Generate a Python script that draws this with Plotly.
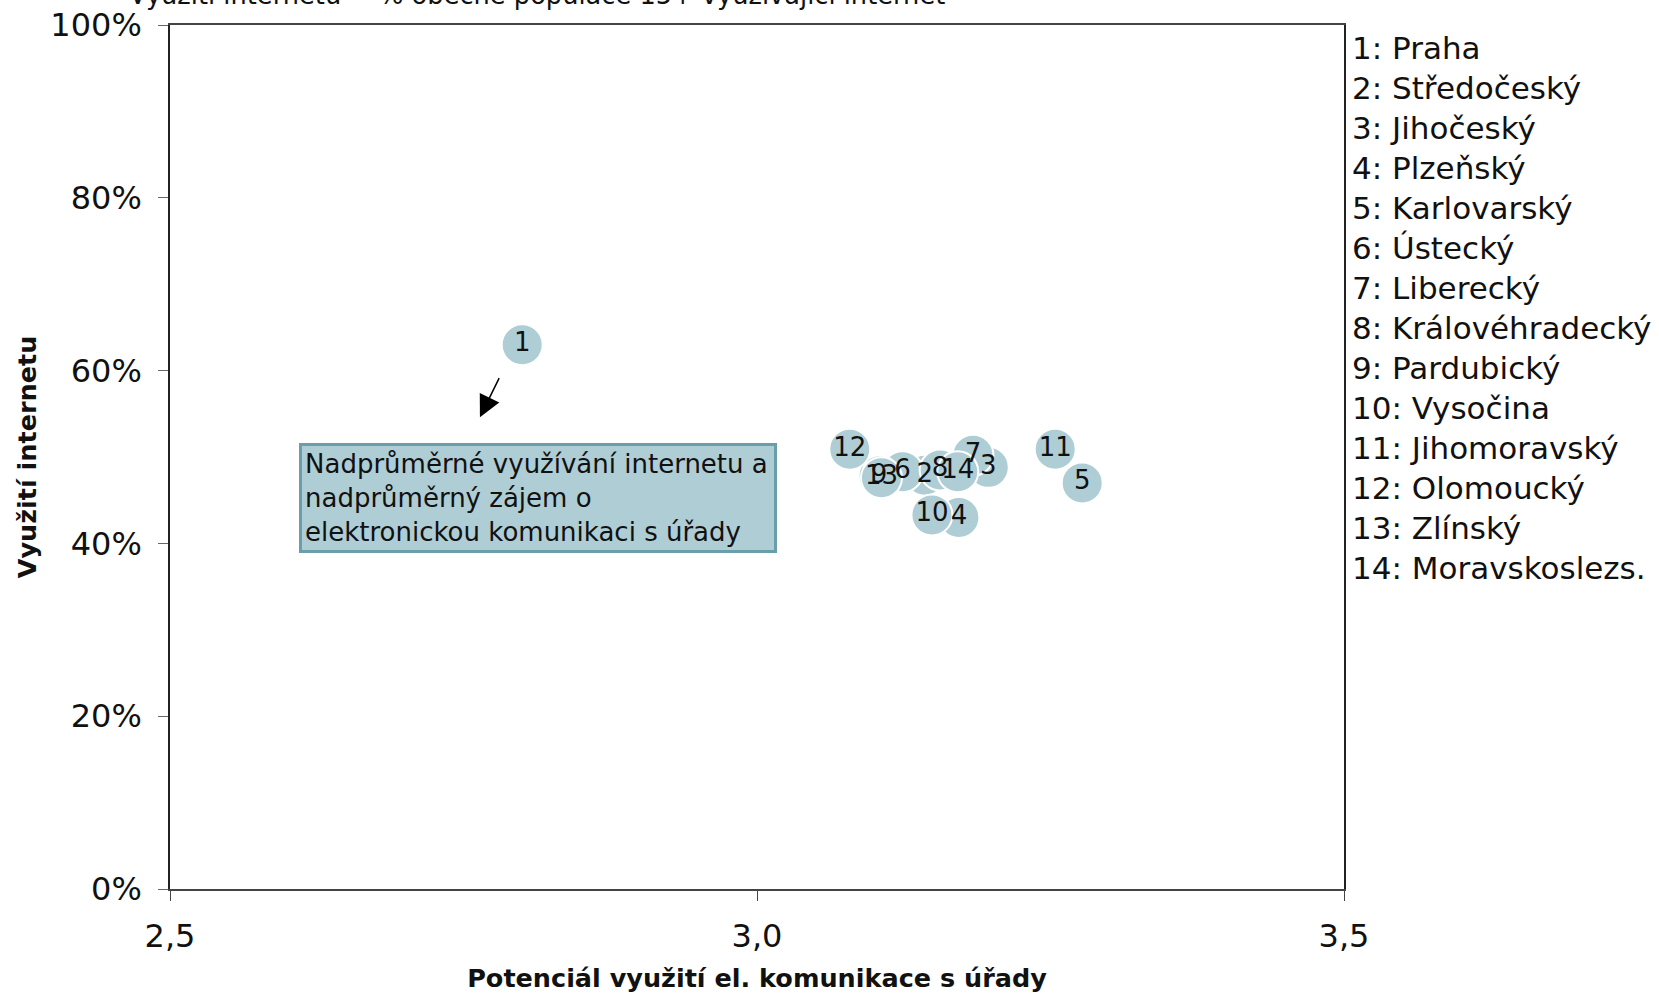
import plotly.graph_objects as go

# ---- data ----
region_ids = ["1", "2", "3", "4", "5", "6", "7", "8", "9", "10", "11", "12", "13", "14"]
region_names = ["Praha", "Středočeský", "Jihočeský", "Plzeňský", "Karlovarský", "Ústecký",
                "Liberecký", "Královéhradecký", "Pardubický", "Vysočina", "Jihomoravský",
                "Olomoucký", "Zlínský", "Moravskoslezs."]
potential_x = [2.800, 3.143, 3.197, 3.172, 3.277, 3.124, 3.184, 3.156, 3.104, 3.149, 3.254, 3.079, 3.106, 3.171]
internet_y = [0.630, 0.479, 0.488, 0.430, 0.470, 0.483, 0.502, 0.485, 0.478, 0.433, 0.509, 0.509, 0.476, 0.483]

x_ticks = [2.5, 3.0, 3.5]
y_ticks = [0, 0.2, 0.4, 0.6, 0.8, 1.0]

# ---- layout constants ----
W, H = 1659, 993
ML, MR, MT, MB = 170, 315, 25, 104
PW, PH = W - ML - MR, H - MT - MB
FONT = "DejaVu Sans"
BUBBLE = "#afcdd5"
BORDER = "#6b9eab"

fig = go.Figure()
fig.add_trace(go.Scatter(
    x=potential_x, y=internet_y, mode="markers+text",
    text=region_ids, textposition="middle center",
    textfont=dict(family=FONT, size=26, color="#111111"),
    marker=dict(size=41, color=BUBBLE, line=dict(color="white", width=2)),
    showlegend=False, hoverinfo="skip", cliponaxis=False,
))

def px_to_paper_y(py):
    return 1 - (py - MT) / PH

def px_to_paper_x(px):
    return (px - ML) / PW

annotations = []
# legend text list
for i, (rid, name) in enumerate(zip(region_ids, region_names)):
    annotations.append(dict(
        xref="paper", yref="paper", x=px_to_paper_x(1350), y=px_to_paper_y(48 + i * 40),
        xanchor="left", yanchor="middle", showarrow=False,
        text=f"{rid}: {name}", font=dict(family=FONT, size=31, color="#111111"),
    ))

# top (cut-off) subtitle
annotations.append(dict(
    xref="paper", yref="paper", x=px_to_paper_x(127), y=px_to_paper_y(-5),
    xanchor="left", yanchor="middle", showarrow=False,
    text="Využití internetu = % obecné populace 15+ využívající internet",
    font=dict(family=FONT, size=25.7, color="#111111"),
))

# annotation box
annotations.append(dict(
    xref="x", yref="y", x=2.61, y=0.4525, xanchor="left", yanchor="middle",
    showarrow=False, align="left", width=466, height=98,
    text="Nadprůměrné využívání internetu a<br>nadprůměrný zájem o<br>elektronickou komunikaci s úřady",
    font=dict(family=FONT, size=26, color="#111111"),
    bgcolor=BUBBLE, bordercolor=BORDER, borderwidth=3, borderpad=3,
))

# arrow
annotations.append(dict(
    xref="x", yref="y", axref="x", ayref="y",
    x=2.764, y=0.546, ax=2.781, ay=0.593,
    text="", showarrow=True, arrowhead=2, arrowsize=2.9, arrowwidth=1.5, arrowcolor="black",
))

fig.update_layout(
    width=W, height=H, margin=dict(l=ML, r=MR, t=MT, b=MB, autoexpand=False),
    paper_bgcolor="white", plot_bgcolor="white",
    separators=", ",
    font=dict(family=FONT, color="#111111"),
    annotations=annotations,
    xaxis=dict(
        range=[2.5, 3.5], tickvals=x_ticks, tickformat=".1f", automargin=False,
        showgrid=False, zeroline=False,
        showline=True, linecolor="#444444", linewidth=2, mirror=True,
        ticks="outside", ticklen=10, tickcolor="#444444", tickwidth=1,
        tickfont=dict(family=FONT, size=32, color="#111111"),
        ticklabelstandoff=8,
        title=dict(text="<b>Potenciál využití el. komunikace s úřady</b>",
                   font=dict(family=FONT, size=25.5, color="#111111"), standoff=15),
    ),
    yaxis=dict(
        range=[0, 1], tickvals=y_ticks, tickformat=".0%", automargin=False,
        showgrid=False, zeroline=False,
        showline=True, linecolor="#222222", linewidth=1.5, mirror=True,
        ticks="outside", ticklen=10, tickcolor="#666666", tickwidth=1,
        tickfont=dict(family=FONT, size=32, color="#111111"),
        ticklabelstandoff=10,
        title=dict(text="<b>Využití internetu</b>",
                   font=dict(family=FONT, size=25.5, color="#111111"), standoff=6),
    ),
)

fig.write_html("out.html", config={"displayModeBar": False},
               post_script="document.body.style.margin='0';")
